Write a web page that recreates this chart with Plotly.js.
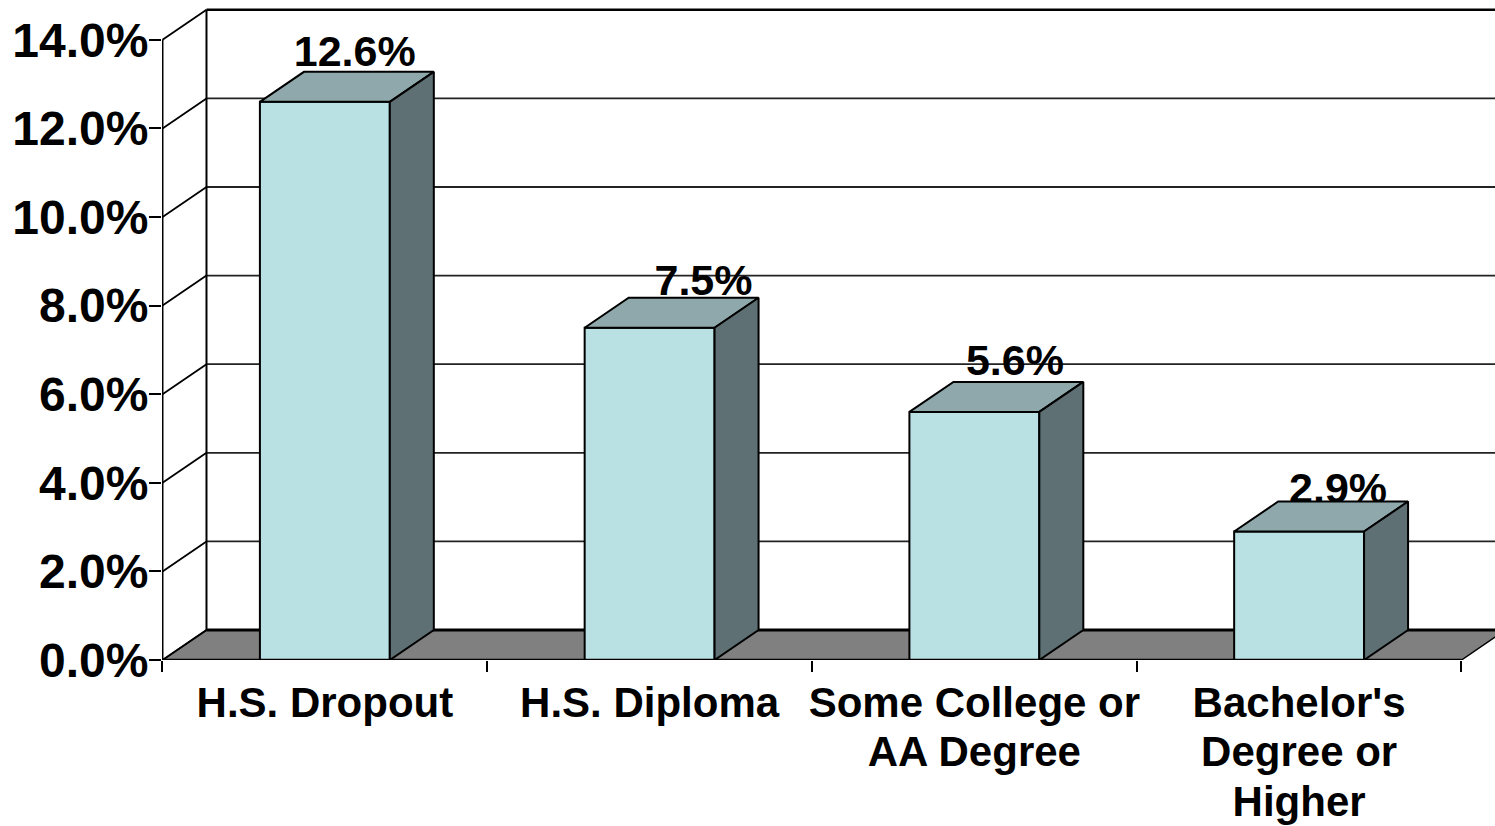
<!DOCTYPE html>
<html>
<head>
<meta charset="utf-8">
<script src="https://cdn.plot.ly/plotly-3.0.1.min.js"></script>
<style>html,body{margin:0;padding:0;background:#fff;overflow:hidden}</style>
</head>
<body>
<div id="chart" style="width:1495px;height:826px"></div>
<script>
var categories = ["H.S. Dropout", "H.S. Diploma", "Some College or<br>AA Degree", "Bachelor's<br>Degree or<br>Higher"];
var values = [12.6, 7.5, 5.6, 2.9];
var valueLabels = ["12.6%", "7.5%", "5.6%", "2.9%"];
var yTicks = [0, 2, 4, 6, 8, 10, 12, 14];
var yTickLabels = ["0.0%", "2.0%", "4.0%", "6.0%", "8.0%", "10.0%", "12.0%", "14.0%"];

// faux-3D projection, in axis units
var DX = 0.1355, DY = 0.677, BAR = 0.4;
var X0 = 0.5, X1 = 4.5;
var labelDx = [0.092, 0.166, 0.125, 0.12];
var labelDy = [1.05, 0.985, 1.07, 0.89];
var INK = "#000000";

var positions = categories.map(function (_, i) { return i + 1; });

// line pitch comes from the tick font size; the glyphs are set a little larger
var tickText = categories.map(function (c) {
  return c.split("<br>").map(function (s) {
    return '<span style="font-size:42px">' + s + "</span>";
  }).join("<br>");
});

function line(x0, y0, x1, y1, w, color) {
  return {type: "line", xref: "x", yref: "y", x0: x0, y0: y0, x1: x1, y1: y1,
          layer: "below", line: {color: color || INK, width: w}};
}
var shapes = [];
// floor
shapes.push({type: "path", xref: "x", yref: "y", layer: "below",
  path: "M" + X0 + ",0 L" + (X0 + DX) + "," + DY + " L" + (X1 + DX) + "," + DY + " L" + X1 + ",0 Z",
  fillcolor: "#808080", line: {color: INK, width: 1.5}});
shapes.push(line(X0 + DX, DY, X1 + DX, DY, 3));
// back wall gridlines, side wall diagonals
yTicks.forEach(function (t) {
  if (t > 0) shapes.push(line(X0 + DX, t + DY, X1 + DX, t + DY, t === 14 ? 2.5 : 1.8, t === 14 ? INK : "#222222"));
  shapes.push(line(X0, t, X0 + DX, t + DY, 1.8));
});
// wall verticals
shapes.push(line(X0 + DX, DY, X0 + DX, 14 + DY, 2));
shapes.push(line(X0, 0, X0, 14, 2));

var traces = [];
traces.push({type: "bar", x: positions, y: values, width: BAR, showlegend: false,
  marker: {color: "#B9E0E3", line: {color: INK, width: 2}}, hoverinfo: "skip"});
traces.push({type: "scatter", mode: "text", showlegend: false, cliponaxis: false, hoverinfo: "skip",
  x: positions.map(function (p, i) { return p + labelDx[i]; }),
  y: values.map(function (v, i) { return v + labelDy[i]; }),
  text: valueLabels, textposition: "middle center",
  textfont: {family: "Liberation Sans", size: 43, color: INK, weight: 700}});
positions.forEach(function (p, i) {
  var l = p - BAR / 2, r = p + BAR / 2, v = values[i];
  traces.push({type: "scatter", mode: "lines", fill: "toself", fillcolor: "#8FA8AB", showlegend: false,
    hoverinfo: "skip", line: {color: INK, width: 2},
    x: [l, l + DX, r + DX, r, l], y: [v, v + DY, v + DY, v, v]});
  traces.push({type: "scatter", mode: "lines", fill: "toself", fillcolor: "#5E7073", showlegend: false,
    hoverinfo: "skip", line: {color: INK, width: 2},
    x: [r, r + DX, r + DX, r, r], y: [v, v + DY, DY, 0, v]});
});
// front baseline
traces.push({type: "scatter", mode: "lines", showlegend: false, hoverinfo: "skip", cliponaxis: false,
  x: [X0, X1], y: [0, 0], line: {color: INK, width: 2.5}});

var layout = {
  width: 1495, height: 826,
  margin: {l: 162, r: 0, t: 0, b: 166, pad: 0},
  paper_bgcolor: "#ffffff", plot_bgcolor: "#ffffff",
  showlegend: false,
  shapes: shapes,
  xaxis: {
    range: [0.4985, 0.4985 + 1333 / 324.75], showgrid: false, zeroline: false, showline: false,
    tickmode: "array", tickvals: positions, ticktext: tickText, tickangle: 0,
    ticks: "", ticklabelstandoff: 18,
    tickfont: {family: "Liberation Sans", size: 38, color: INK, weight: 700},
    minor: {tickmode: "array", tickvals: [0.5, 1.5, 2.5, 3.5, 4.5], ticks: "outside", ticklen: 11,
            tickwidth: 2, tickcolor: INK, showgrid: false}
  },
  yaxis: {
    range: [0, 660 / 44.3], showgrid: false, zeroline: false, showline: false,
    tickmode: "array", tickvals: yTicks, ticktext: yTickLabels,
    ticks: "outside", ticklen: 12, tickwidth: 2, tickcolor: INK, ticklabelstandoff: -9,
    tickfont: {family: "Liberation Sans", size: 48, color: INK, weight: 700}
  }
};
Plotly.newPlot("chart", traces, layout, {displayModeBar: false, responsive: false});
</script>
</body>
</html>
